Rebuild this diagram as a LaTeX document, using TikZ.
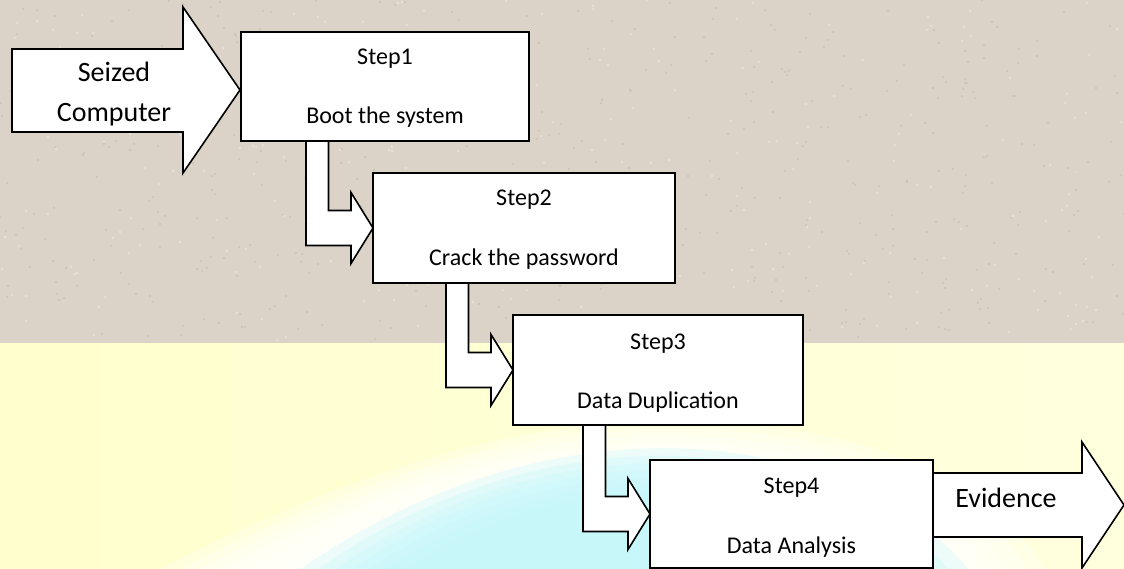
\documentclass[tikz,border=0pt]{standalone}
\usepackage{fontspec}
\setmainfont{Carlito}
\usetikzlibrary{calc}
\pgfdeclarelayer{bg}
\pgfdeclarelayer{mid}
\pgfsetlayers{bg,mid,main}
\definecolor{stone}{RGB}{219,211,199}
\definecolor{stonedark}{RGB}{180,170,155}
\definecolor{stonelight}{RGB}{236,231,222}
\definecolor{yellowL}{RGB}{255,255,205}
\definecolor{yellowR}{RGB}{255,255,222}
\definecolor{palecyan}{RGB}{196,247,252}
\newcommand{\elbowarrow}[2]{%
  \draw[blockarrow] let \p1=(#2.west), \p2=(#1.south) in
    (\x1-67pt,\y2) -- (\x1-67pt,\y1-17.5pt) -- (\x1-22pt,\y1-17.5pt)
    -- (\x1-22pt,\y1-35.5pt) -- (\x1,\y1) -- (\x1-22pt,\y1+35.5pt)
    -- (\x1-22pt,\y1+17.5pt) -- (\x1-44.5pt,\y1+17.5pt) -- (\x1-44.5pt,\y2) -- cycle;}
\begin{document}
\begin{tikzpicture}[x=1pt,y=-1pt,
  stepbox/.style={draw=black, fill=white, line width=1.6pt, inner sep=0pt, outer sep=0pt, anchor=north west},
  blockarrow/.style={draw=black, fill=white, line width=1.6pt, line join=miter},
  steptext/.style={font=\fontsize{24}{28}\selectfont, anchor=base, inner sep=0pt},
  bigtext/.style={font=\fontsize{28}{32}\selectfont, anchor=base, inner sep=0pt}]
\useasboundingbox (0,0) rectangle (1124,569);

% background
\begin{pgfonlayer}{bg}
\begin{scope}
\clip (0,0) rectangle (1124,569);
\fill[stone] (0,0) rectangle (1124,343);
\pgfmathsetseed{17}
\foreach \i in {1,...,500}{
  \pgfmathsetmacro{\rx}{random(0,1124)}
  \pgfmathsetmacro{\ry}{random(0,340)}
  \fill[stonedark,opacity=0.4] (\rx,\ry) circle (1.1pt);
}
\foreach \i in {1,...,250}{
  \pgfmathsetmacro{\rx}{random(0,1124)}
  \pgfmathsetmacro{\ry}{random(0,340)}
  \fill[stonelight,opacity=0.6] (\rx,\ry) circle (1.6pt);
}
\shade[left color=yellowL, right color=yellowR] (0,343) rectangle (1124,569);
% soft white band
\foreach \s in {1.00,0.96,0.92,0.88,0.84,0.80,0.76}{
  \begin{scope}[shift={(600,600)}, scale=\s]
  \fill[white,opacity=0.3] (-500,0) .. controls (-350,-80) and (-150,-175) .. (50,-178)
    .. controls (200,-182) and (400,-150) .. (460,0) -- cycle;
  \end{scope}
}
% soft cyan patch
\foreach \s in {1.00,0.95,0.90,0.85,0.80,0.75,0.70}{
  \begin{scope}[shift={(600,600)}, scale=\s]
  \fill[palecyan,opacity=0.3] (-340,0) .. controls (-230,-90) and (-90,-150) .. (60,-152)
    .. controls (200,-152) and (330,-100) .. (390,0) -- cycle;
  \end{scope}
}
\end{scope}
\end{pgfonlayer}

% step boxes
\node[stepbox, minimum width=288pt, minimum height=109pt] (b1) at (241,32) {};
\node[stepbox, minimum width=302pt, minimum height=110pt] (b2) at (373,173) {};
\node[stepbox, minimum width=290pt, minimum height=110pt] (b3) at (513,315) {};
\node[stepbox, minimum width=283pt, minimum height=108pt] (b4) at (650,460) {};

\node[steptext] (t1a) at ($(b1.north)+(0,33)$) {Step1};
\node[steptext] (t1b) at ($(b1.north)+(0,92)$) {Boot the system};
\node[steptext] (t2a) at ($(b2.north)+(0,33)$) {Step2};
\node[steptext] (t2b) at ($(b2.north)+(0,93)$) {Crack the password};
\node[steptext] (t3a) at ($(b3.north)+(0,34)$) {Step3};
\node[steptext] (t3b) at ($(b3.north)+(0,93)$) {Data Duplication};
\node[steptext] (t4a) at ($(b4.north)+(0,33)$) {Step4};
\node[steptext] (t4b) at ($(b4.north)+(0,93)$) {Data Analysis};

% input / output arrows and elbow connectors
\begin{pgfonlayer}{mid}
\draw[blockarrow] (12,49) -- (183,49) -- (183,7) -- (240,90) -- (183,173)
  -- (183,132) -- (12,132) -- cycle;
\draw[blockarrow] (b4.east |- 0,473) -- (1082,473) -- (1082,442) -- (1124,505)
  -- (1082,568) -- (1082,537) -- (b4.east |- 0,537) -- cycle;
\elbowarrow{b1}{b2}
\elbowarrow{b2}{b3}
\elbowarrow{b3}{b4}
\end{pgfonlayer}

\node[bigtext] (s1) at (114,82) {Seized};
\node[bigtext] (s2) at (114,122) {Computer};
\node[bigtext] (ev) at (1006,507) {Evidence};
\end{tikzpicture}
\end{document}
